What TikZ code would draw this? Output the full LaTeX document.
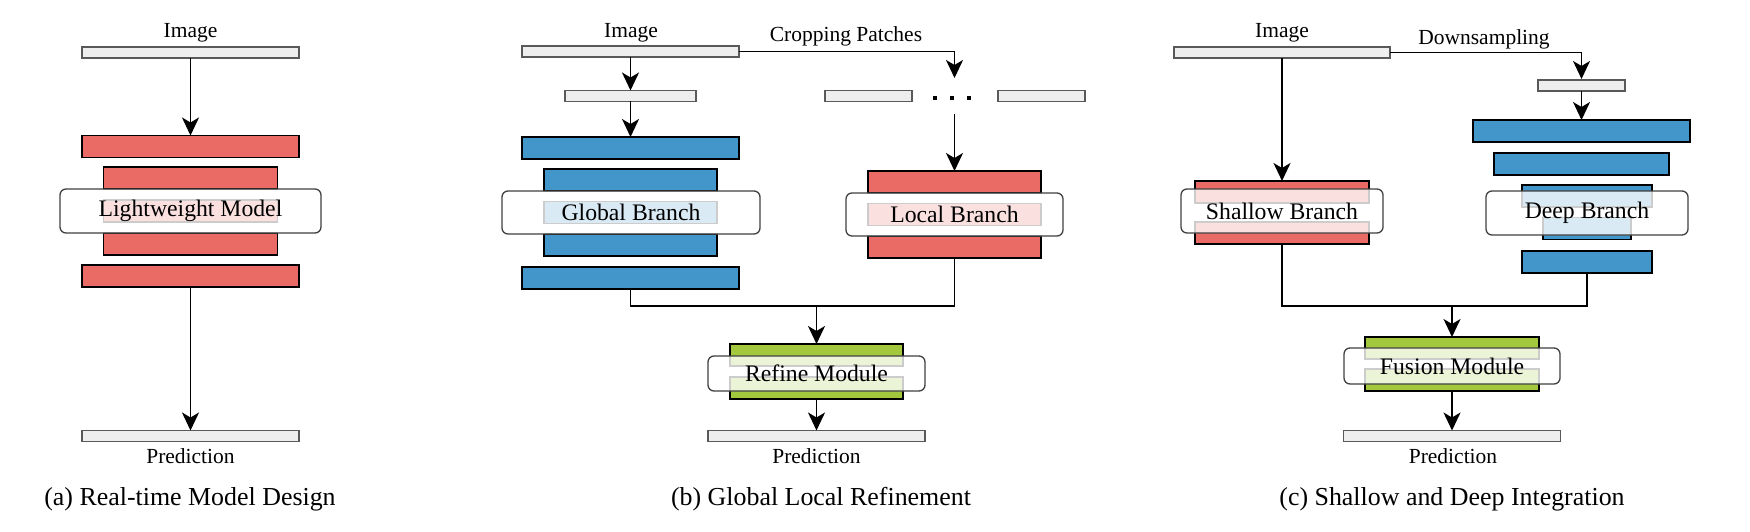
\documentclass[tikz,border=0pt]{standalone}
\usepackage{fontspec}
\setmainfont{Liberation Serif}
\usetikzlibrary{arrows.meta}
\definecolor{cred}{HTML}{EA6B66}
\definecolor{cblue}{HTML}{4396C9}
\definecolor{cgreen}{HTML}{A3C83D}
\definecolor{cgray}{HTML}{EEEEEE}
\begin{document}
\begin{tikzpicture}[x=1pt,y=-1pt,
  bar/.style={draw=black, line width=1.6pt, inner sep=0pt, outer sep=0pt, minimum height=22pt},
  rbar/.style={bar, fill=cred},
  bbar/.style={bar, fill=cblue},
  gbar/.style={bar, fill=cgreen},
  graybar/.style={draw=black!65, fill=cgray, line width=1.3pt, inner sep=0pt, outer sep=0pt, minimum height=11pt},
  lbl/.style={draw=black!75, line width=1.3pt, rounded corners=6pt, fill=white, fill opacity=0.8, text opacity=1, inner sep=0pt, outer sep=0pt, font=\fontsize{23.7}{26}\selectfont},
  txt/.style={inner sep=0pt, font=\fontsize{21.5}{24}\selectfont},
  captxt/.style={inner sep=0pt, font=\fontsize{25.9}{28}\selectfont},
  dotsq/.style={fill=black, inner sep=0pt, minimum size=4pt},
  arr/.style={line width=1.8pt, -{Stealth[length=18pt,width=17pt,inset=5pt]}},
  conn/.style={line width=1.8pt}]
\useasboundingbox (0,0) rectangle (1750,532);

% ---------------- (a) ----------------
\node[txt] (atxt) at (190.5,33) {Image};
\node[graybar, minimum width=217pt] (aimg) at (190.5,52.5) {};
\node[rbar, minimum width=217pt] (a1) at (190.5,146.5) {};
\node[rbar, minimum width=174pt] (a2) at (190.5,178) {};
\node[rbar, minimum width=174pt] (a3) at (190.5,211) {};
\node[rbar, minimum width=174pt] (a4) at (190.5,244) {};
\node[rbar, minimum width=217pt] (a5) at (190.5,276) {};
\node[lbl, minimum width=261pt, minimum height=44pt] (alab) at (190.5,211) {Lightweight Model};
\node[graybar, minimum width=217pt] (apred) at (190.5,436) {};
\node[txt] (aptxt) at (190.5,456) {Prediction};
\node[captxt] (acap) at (190,499) {(a) Real-time Model Design};
\draw[arr] (aimg.south) -- (a1.north);
\draw[arr] (a5.south) -- (apred.north);

% ---------------- (b) ----------------
\node[txt] (btxt) at (631,33) {Image};
\node[txt] (bcrop) at (846,36) {Cropping Patches};
\node[graybar, minimum width=217pt] (bimg) at (630.5,51.5) {};
\node[graybar, minimum width=131pt] (bsmall) at (630.5,96) {};
\node[bbar, minimum width=217pt] (bg1) at (630.5,148) {};
\node[bbar, minimum width=173pt] (bg2) at (630.5,180) {};
\node[bbar, minimum width=173pt] (bg3) at (630.5,212.5) {};
\node[bbar, minimum width=173pt] (bg4) at (630.5,245) {};
\node[bbar, minimum width=217pt] (bg5) at (630.5,278) {};
\node[lbl, minimum width=258pt, minimum height=43pt] (bglab) at (631,212.5) {Global Branch};
\node[graybar, minimum width=87pt] (bp1) at (868.5,96) {};
\node[graybar, minimum width=87pt] (bp2) at (1041.5,96) {};
\node[dotsq] (bd1) at (935,98) {};
\node[dotsq] (bd2) at (952,98) {};
\node[dotsq] (bd3) at (969,98) {};
\node[rbar, minimum width=173pt] (bl1) at (954.5,182) {};
\node[rbar, minimum width=173pt] (bl2) at (954.5,214.5) {};
\node[rbar, minimum width=173pt] (bl3) at (954.5,247) {};
\node[lbl, minimum width=217pt, minimum height=43pt] (bllab) at (954.5,214.5) {Local Branch};
\node[gbar, minimum width=173pt] (bf1) at (816.5,355) {};
\node[gbar, minimum width=173pt] (bf2) at (816.5,388) {};
\node[lbl, minimum width=217pt, minimum height=35pt] (bflab) at (816.5,373.5) {Refine Module};
\node[graybar, minimum width=217pt] (bpred) at (816.5,436) {};
\node[txt] (bptxt) at (816.5,456) {Prediction};
\node[captxt] (bcap) at (821,499) {(b) Global Local Refinement};
\coordinate (bcropend) at (954.5,78);
\coordinate (bdots) at (954.5,114);
\coordinate (bmerge) at (816.5,306);
\draw[arr] (bimg.south) -- (bsmall.north);
\draw[arr] (bsmall.south) -- (bg1.north);
\draw[arr] (bimg.east) -| (bcropend);
\draw[arr] (bdots) -- (bl1.north);
\draw[conn] (bg5.south) |- (bmerge) -| (bl3.south);
\draw[arr] (bmerge) -- (bf1.north);
\draw[arr] (bf2.south) -- (bpred.north);

% ---------------- (c) ----------------
\node[txt] (ctxt) at (1282,33) {Image};
\node[txt] (cdown) at (1484,39) {Downsampling};
\node[graybar, minimum width=216pt] (cimg) at (1282,52.5) {};
\node[graybar, minimum width=87pt] (csmall) at (1581.5,85.5) {};
\node[bbar, minimum width=217pt] (cd1) at (1581.5,131) {};
\node[bbar, minimum width=175pt] (cd2) at (1581.5,164) {};
\node[bbar, minimum width=130pt] (cd3) at (1587,196) {};
\node[bbar, minimum width=88pt] (cd4) at (1587,228.5) {};
\node[bbar, minimum width=130pt] (cd5) at (1587,262) {};
\node[lbl, minimum width=202pt, minimum height=44pt] (cdlab) at (1587,213) {Deep Branch};
\node[rbar, minimum width=174pt] (cs1) at (1282,192) {};
\node[rbar, minimum width=174pt] (cs2) at (1282,233) {};
\node[lbl, minimum width=202pt, minimum height=44pt] (cslab) at (1282,211) {Shallow Branch};
\node[gbar, minimum width=174pt] (cf1) at (1452,348) {};
\node[gbar, minimum width=174pt] (cf2) at (1452,380) {};
\node[lbl, minimum width=216pt, minimum height=36pt] (cflab) at (1452,366) {Fusion Module};
\node[graybar, minimum width=217pt] (cpred) at (1452,436) {};
\node[txt] (cptxt) at (1453,456) {Prediction};
\node[captxt] (ccap) at (1452,499) {(c) Shallow and Deep Integration};
\coordinate (cdownend) at (1581.5,79);
\coordinate (cmerge) at (1452,306);
\draw[arr] (cimg.east) -| (cdownend);
\draw[arr] (csmall.south) -- (cd1.north);
\draw[arr] (cimg.south) -- (cs1.north);
\draw[conn] (cd5.south) |- (cmerge) -| (cs2.south);
\draw[arr] (cmerge) -- (cf1.north);
\draw[arr] (cf2.south) -- (cpred.north);
\end{tikzpicture}
\end{document}
